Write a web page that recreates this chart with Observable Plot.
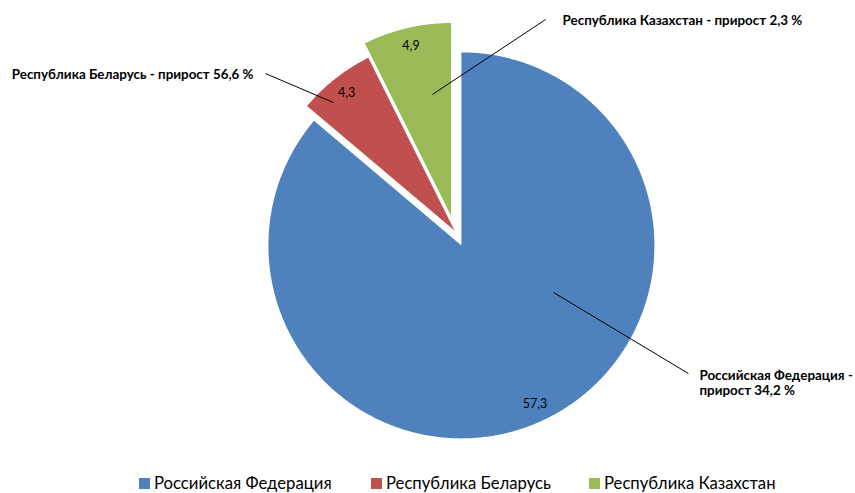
<!DOCTYPE html>
<html>
<head>
<meta charset="utf-8">
<script src="https://cdn.jsdelivr.net/npm/d3@7"></script>
<script src="https://cdn.jsdelivr.net/npm/@observablehq/plot@0.6"></script>
<style>
  html, body { margin: 0; padding: 0; background: #fff; }
  #wrap { position: relative; width: 855px; height: 493px; overflow: hidden; font-family: Lato, "Open Sans", sans-serif; }
  #chart { position: absolute; left: 0; top: 0; }
  .leg { position: absolute; top: 473px; height: 20px; line-height: 20px; display: flex; align-items: center; font-size: 16.7px; color: #000; white-space: nowrap; }
  .sw { width: 11px; height: 11px; margin-right: 4px; }
</style>
</head>
<body>
<div id="wrap"><div id="chart"></div></div>
<script>
// ---- data ----
const categories = ["Российская Федерация", "Республика Беларусь", "Республика Казахстан"];
const values = [57.3, 4.3, 4.9];
const valueLabels = ["57,3", "4,3", "4,9"];
const growthLabels = ["34,2", "56,6", "2,3"];
const colors = ["#4F81BD", "#C0504D", "#9BBB59"];

// ---- layout (not data) ----
const explode = [0.085, 0, 0.077];       // slice offset, in radius units
const labelRadius = 0.905;               // value label distance, in radius units
// callout text anchors and leader-line ends, in radius units around the pie centre
const callouts = [
  {text: categories[0] + " -\nприрост " + growthLabels[0] + " %", x: 1.269, y: -0.790, anchor: "start", lx1: 0.513, ly1: -0.321, lx2: 1.212, ly2: -0.741},
  {text: categories[1] + " - прирост " + growthLabels[1] + " %", x: -1.041, y: 0.808, anchor: "end", lx1: -0.627, ly1: 0.663, lx2: -0.979, ly2: 0.813},
  {text: categories[2] + " - прирост " + growthLabels[2] + " %", x: 0.560, y: 1.088, anchor: "start", lx1: -0.114, ly1: 0.705, lx2: 0.472, ly2: 1.093}
];
const legendLeft = [139, 371, 589];

// ---- geometry from the data ----
const total = d3.sum(values);
let acc = 0;
const slices = values.map((v, i) => {
  const a0 = acc / total * 2 * Math.PI;
  acc += v;
  const a1 = acc / total * 2 * Math.PI;
  const mid = (a0 + a1) / 2;
  const ox = explode[i] * Math.sin(mid), oy = explode[i] * Math.cos(mid);
  return {name: categories[i], label: valueLabels[i], a0, a1, mid, ox, oy,
          lx: ox + labelRadius * Math.sin(mid), ly: oy + labelRadius * Math.cos(mid)};
});
const outline = [];
for (const s of slices) {
  outline.push({name: s.name, x: s.ox, y: s.oy});
  const n = Math.max(2, Math.ceil((s.a1 - s.a0) / (Math.PI / 360)));
  for (let k = 0; k <= n; k++) {
    const a = s.a0 + (s.a1 - s.a0) * k / n;
    outline.push({name: s.name, x: s.ox + Math.sin(a), y: s.oy + Math.cos(a)});
  }
  outline.push({name: s.name, x: s.ox, y: s.oy});
}

const calloutStyle = {x: "x", y: "y", text: "text", fill: "#000", fontSize: 13.4, fontWeight: "bold", lineHeight: 1.12};

const plot = Plot.plot({
  width: 855,
  height: 470,
  margin: 0,
  style: {fontFamily: "Lato, 'Open Sans', sans-serif", background: "white"},
  x: {domain: [-1, 1], range: [261, 647], axis: null},
  y: {domain: [-1, 1], range: [423, 37], axis: null},
  color: {domain: categories, range: colors},
  marks: [
    Plot.line(outline, {x: "x", y: "y", z: "name", fill: "name", stroke: null, curve: "linear"}),
    Plot.text(slices, {x: "lx", y: "ly", text: "label", fill: "#000", fontSize: 12.5}),
    Plot.link(callouts, {x1: "lx1", y1: "ly1", x2: "lx2", y2: "ly2", stroke: "#000", strokeWidth: 1}),
    Plot.text(callouts.filter(d => d.anchor === "start"), {...calloutStyle, textAnchor: "start"}),
    Plot.text(callouts.filter(d => d.anchor === "end"), {...calloutStyle, textAnchor: "end"})
  ]
});
document.getElementById("chart").appendChild(plot);

// legend
const wrap = document.getElementById("wrap");
categories.forEach((c, i) => {
  const item = document.createElement("div");
  item.className = "leg";
  item.style.left = legendLeft[i] + "px";
  const sw = document.createElement("span");
  sw.className = "sw";
  sw.style.background = colors[i];
  const t = document.createElement("span");
  t.textContent = c;
  item.appendChild(sw);
  item.appendChild(t);
  wrap.appendChild(item);
});
</script>
</body>
</html>
